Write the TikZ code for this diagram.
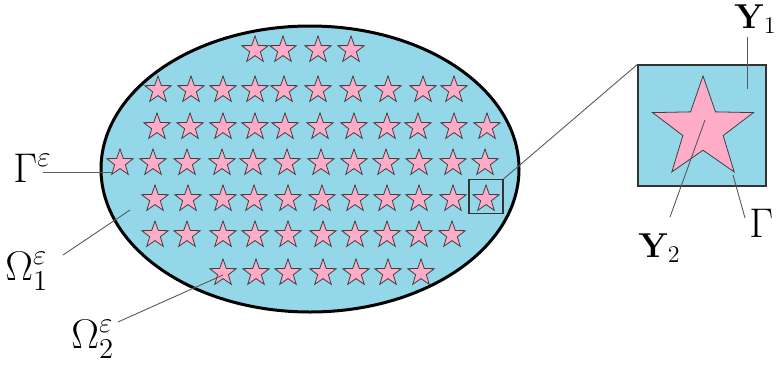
\documentclass[tikz,border=0pt]{standalone}
\usetikzlibrary{shapes.geometric}
\definecolor{cellblue}{RGB}{148,215,232}
\definecolor{starpink}{RGB}{255,172,200}
% five-pointed star: centre x, centre y, outer radius (in px units)
\newcommand{\drawstar}[3]{%
	\draw[inclusion, shift={(#1,#2)}] (270:#3)
		\foreach \k in {1,...,9}{ -- ({270+36*\k}:{ifthenelse(mod(\k,2)==0,#3,0.4*#3)}) } -- cycle;}
\begin{document}
\begin{tikzpicture}[x=0.5pt,y=-0.5pt,
		inclusion/.style={draw=black!75, fill=starpink, line width=0.4pt, line join=miter},
		leader/.style={draw=black!65, line width=0.45pt},
		lbl/.style={inner sep=0pt, font=\huge, anchor=base west}]
		\useasboundingbox (0,0) rectangle (777,365);

		% perforated domain
		\node[ellipse, draw, line width=1.5pt, fill=cellblue, minimum width=209pt, minimum height=143pt, inner sep=0pt] (domain) at (310,169) {};

		\foreach \yy/\xs in {50/{255,283,318,351},
				90/{158,191,223,255,284,318,353,388,423,454},
				127/{157,190,223,255,285,320,354,387,418,454,487},
				163/{120,153,187,222,253,287,321,354,386,419,453,485},
				199/{155,188,223,254,288,322,355,387,419,453,486},
				235/{155,187,223,255,288,323,355,387,419,452},
				273/{223,256,288,323,356,388,421}}
			\foreach \xx in \xs
				\drawstar{\xx}{\yy}{14};

		% periodicity cell
		\node[draw=black!80, line width=0.6pt, minimum size=17pt, inner sep=0pt] (cell) at (486,196.5) {};
		\node[draw=black!80, line width=0.6pt, fill=cellblue, minimum width=64pt, minimum height=60.5pt, inner sep=0pt] (Ycell) at (702,125.5) {};
		\drawstar{703}{129}{53}
		\draw[leader] (cell.north east) -- (Ycell.north west);

		% labels
		\node[lbl] (Geps) at (13,182) {$\Gamma^{\varepsilon}$};
		\node[lbl] (Oeps1) at (5,280) {$\Omega^{\varepsilon}_{1}$};
		\node[lbl] (Oeps2) at (71,348) {$\Omega^{\varepsilon}_{2}$};
		\node[lbl, font=\LARGE, anchor=base east] (Yone) at (777,28) {$\mathbf{Y}_{1}$};
		\node[lbl, font=\LARGE] (Ytwo) at (638,257) {$\mathbf{Y}_{2}$};
		\node[lbl] (Gam) at (749,237) {$\Gamma$};

		\coordinate (Geps-a) at (43,172);
		\coordinate (Geps-b) at (113,172);
		\coordinate (Oeps1-a) at (63,255);
		\coordinate (Oeps1-b) at (130,210);
		\coordinate (Oeps2-a) at (118,322);
		\coordinate (Oeps2-b) at (223,275);
		\coordinate (Yone-a) at (747,37);
		\coordinate (Yone-b) at (747,89);
		\coordinate (Ytwo-a) at (670,217);
		\coordinate (Ytwo-b) at (705,120);
		\coordinate (Gam-a) at (745,218);
		\coordinate (Gam-b) at (733,175);

		\draw[leader] (Geps-a) -- (Geps-b);
		\draw[leader] (Oeps1-a) -- (Oeps1-b);
		\draw[leader] (Oeps2-a) -- (Oeps2-b);
		\draw[leader] (Yone-a) -- (Yone-b);
		\draw[leader] (Ytwo-a) -- (Ytwo-b);
		\draw[leader] (Gam-a) -- (Gam-b);
	\end{tikzpicture}
\end{document}
